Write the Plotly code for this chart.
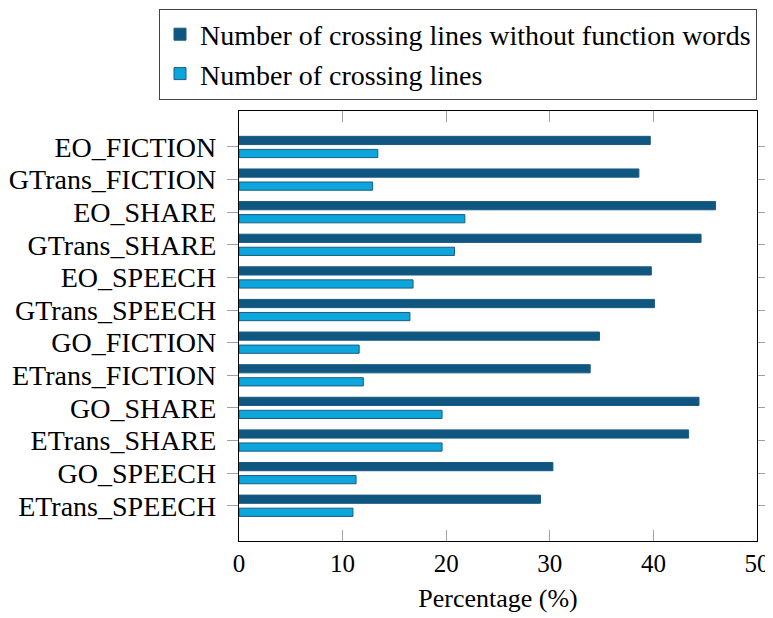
import plotly.graph_objects as go

categories = ["EO_FICTION", "GTrans_FICTION", "EO_SHARE", "GTrans_SHARE",
              "EO_SPEECH", "GTrans_SPEECH", "GO_FICTION", "ETrans_FICTION",
              "GO_SHARE", "ETrans_SHARE", "GO_SPEECH", "ETrans_SPEECH"]
without_function_words = [39.7, 38.6, 46.0, 44.6, 39.8, 40.1,
                          34.8, 33.9, 44.4, 43.4, 30.3, 29.1]
crossing_lines = [13.4, 12.9, 21.8, 20.8, 16.8, 16.5,
                  11.6, 12.0, 19.6, 19.6, 11.3, 11.0]
x_ticks = [0, 10, 20, 30, 40, 50]

FONT = "Liberation Serif"
DARK = "#0f5781"
LIGHT = "#0aa6dc"

# page body adds an 8px offset; figure is sized/margined to compensate
W, H = 765, 610
ML, MR, MT, MB = 231, 16, 103, 77
plot_h = H - MT - MB

fig = go.Figure()
fig.add_trace(go.Bar(
    y=categories, x=without_function_words, orientation="h",
    name="Number of crossing lines without function words",
    marker=dict(color=DARK, line=dict(color="#1c5a80", width=1)),
))
fig.add_trace(go.Bar(
    y=categories, x=crossing_lines, orientation="h",
    name="Number of crossing lines",
    marker=dict(color=LIGHT, line=dict(color="#1e5a80", width=1)),
))

fig.update_layout(
    width=W, height=H,
    margin=dict(l=ML, r=MR, t=MT, b=MB, pad=0, autoexpand=False),
    paper_bgcolor="white", plot_bgcolor="white",
    barmode="group", bargap=0.2, bargroupgap=0.37,
    font=dict(family=FONT, size=25, color="black"),
    showlegend=True,
    legend=dict(
        x=1.0, xanchor="right", y=1 + (MT - 0.5) / plot_h, yanchor="top",
        bordercolor="#444", borderwidth=1, bgcolor="white",
        traceorder="normal", font=dict(family=FONT, size=28),
        itemwidth=30, tracegroupgap=0,
    ),
)
fig.update_xaxes(
    range=[0, 50], tickvals=x_ticks, ticktext=[str(v) for v in x_ticks],
    showgrid=False, zeroline=False, automargin=False,
    showline=True, linecolor="black", linewidth=1.3, mirror="ticks",
    ticks="inside", ticklen=11, tickcolor="#a0a0a0", tickwidth=1.2,
    ticklabelstandoff=0, tickfont=dict(family=FONT, size=25),
    title=dict(text="Percentage (%)", standoff=12, font=dict(family=FONT, size=26)),
)
fig.update_yaxes(
    type="category", categoryorder="array", categoryarray=categories,
    tickmode="array", tickvals=categories, ticktext=categories,
    range=[12.081, -1.103], automargin=False,
    showgrid=False, zeroline=False,
    showline=True, linecolor="black", linewidth=1.3, mirror="ticks",
    ticks="outside", ticklen=11, tickcolor="#a0a0a0", tickwidth=1.2,
    ticklabelstandoff=5, tickfont=dict(family=FONT, size=28),
)

fig.write_html("out.html")
